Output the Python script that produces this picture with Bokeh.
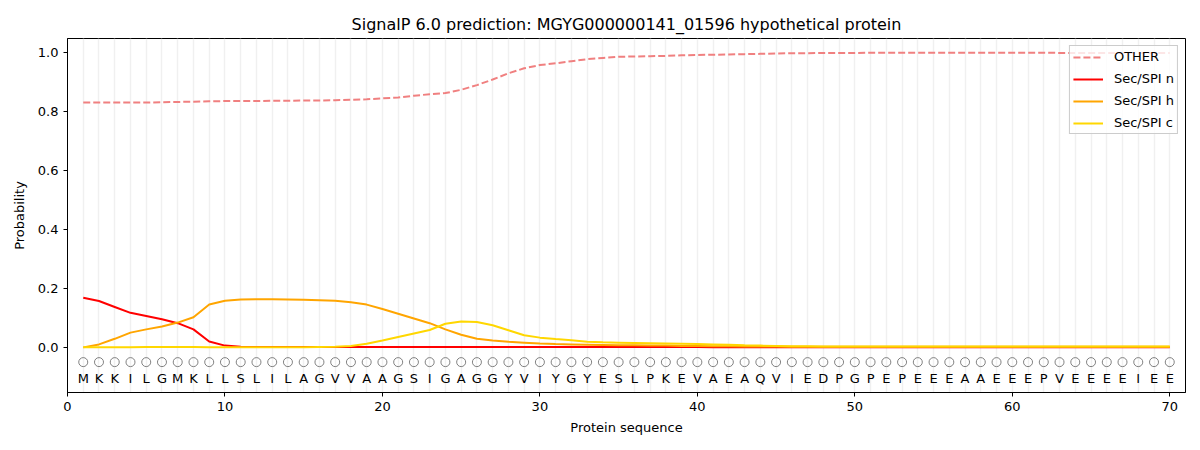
from bokeh.plotting import figure
from bokeh.models import Range1d, FixedTicker, PrintfTickFormatter, Legend, LegendItem
from bokeh.core.properties import value
from bokeh.embed import file_html
from bokeh.resources import INLINE

title_text = "SignalP 6.0 prediction: MGYG000000141_01596 hypothetical protein"

sequence = ["M", "K", "K", "I", "L", "G", "M", "K", "L", "L",
            "S", "L", "I", "L", "A", "G", "V", "V", "A", "A",
            "G", "S", "I", "G", "A", "G", "G", "Y", "V", "I",
            "Y", "G", "Y", "E", "S", "L", "P", "K", "E", "V",
            "A", "E", "A", "Q", "V", "I", "E", "D", "P", "G",
            "P", "E", "P", "E", "E", "E", "A", "A", "E", "E",
            "E", "P", "V", "E", "E", "E", "E", "I", "E", "E"]

positions = list(range(1, len(sequence) + 1))

other = [0.830, 0.830, 0.830, 0.830, 0.830, 0.831, 0.832, 0.833, 0.834, 0.835,
         0.835, 0.835, 0.836, 0.836, 0.837, 0.837, 0.838, 0.839, 0.841, 0.844,
         0.847, 0.853, 0.858, 0.862, 0.873, 0.889, 0.908, 0.929, 0.946, 0.957,
         0.963, 0.970, 0.977, 0.981, 0.985, 0.986, 0.987, 0.988, 0.990, 0.991,
         0.992, 0.993, 0.994, 0.995, 0.996, 0.997, 0.997, 0.998, 0.998, 0.998,
         0.999, 0.999, 0.999, 0.999, 0.999, 0.999, 0.999, 0.999, 0.999, 0.999,
         0.999, 0.999, 0.998, 0.998, 0.998, 0.998, 0.998, 0.998, 0.998, 0.998]

sec_n = [0.168, 0.157, 0.137, 0.117, 0.106, 0.095, 0.082, 0.061, 0.020, 0.006,
         0.002, 0.001, 0.001, 0.001, 0.001, 0.001, 0.001, 0.001, 0.001, 0.001,
         0.001, 0.001, 0.001, 0.001, 0.001, 0.001, 0.001, 0.001, 0.001, 0.001,
         0.001, 0.001, 0.001, 0.001, 0.001, 0.001, 0.001, 0.001, 0.001, 0.001,
         0.000, 0.000, 0.000, 0.000, 0.000, 0.000, 0.000, 0.000, 0.000, 0.000,
         0.000, 0.000, 0.000, 0.000, 0.000, 0.000, 0.000, 0.000, 0.000, 0.000,
         0.000, 0.000, 0.000, 0.000, 0.000, 0.000, 0.000, 0.000, 0.000, 0.000]

sec_h = [0.000, 0.010, 0.029, 0.050, 0.061, 0.071, 0.084, 0.102, 0.145, 0.158,
         0.162, 0.163, 0.163, 0.162, 0.161, 0.160, 0.158, 0.153, 0.145, 0.130,
         0.114, 0.098, 0.082, 0.061, 0.043, 0.029, 0.023, 0.019, 0.016, 0.013,
         0.011, 0.010, 0.009, 0.008, 0.007, 0.007, 0.006, 0.006, 0.005, 0.005,
         0.004, 0.004, 0.003, 0.003, 0.003, 0.002, 0.002, 0.002, 0.002, 0.002,
         0.002, 0.002, 0.002, 0.002, 0.002, 0.002, 0.002, 0.002, 0.002, 0.002,
         0.002, 0.002, 0.002, 0.002, 0.002, 0.002, 0.002, 0.002, 0.002, 0.002]

sec_c = [0.000, 0.000, 0.000, 0.000, 0.001, 0.001, 0.001, 0.001, 0.000, 0.000,
         0.000, 0.000, 0.000, 0.000, 0.000, 0.001, 0.002, 0.005, 0.012, 0.023,
         0.035, 0.047, 0.059, 0.080, 0.088, 0.086, 0.075, 0.058, 0.041, 0.033,
         0.028, 0.024, 0.019, 0.017, 0.016, 0.015, 0.014, 0.013, 0.012, 0.011,
         0.010, 0.009, 0.007, 0.006, 0.005, 0.004, 0.004, 0.003, 0.003, 0.003,
         0.003, 0.003, 0.003, 0.003, 0.003, 0.003, 0.003, 0.003, 0.003, 0.003,
         0.003, 0.003, 0.003, 0.003, 0.003, 0.003, 0.003, 0.003, 0.003, 0.003]

x_ticks = [0, 10, 20, 30, 40, 50, 60, 70]
y_ticks = [0.0, 0.2, 0.4, 0.6, 0.8, 1.0]

FONT = "DejaVu Sans"

p = figure(width=1200, height=450, output_backend="svg", toolbar_location=None,
           x_range=Range1d(0, 71), y_range=Range1d(-0.153, 1.047),
           min_border_left=67, min_border_right=15, min_border_top=38, min_border_bottom=58)
p.title.text = title_text
p.title.align = "center"
p.title.text_font = FONT
p.title.text_font_size = "16px"
p.title.text_font_style = "normal"
p.title.text_color = "black"

p.outline_line_color = "black"
p.outline_line_width = 1
p.outline_line_alpha = 1

for ax in (p.xaxis[0], p.yaxis[0]):
    ax.axis_line_color = "black"
    ax.major_tick_line_color = "black"
    ax.minor_tick_line_color = None
    ax.major_tick_out = 4
    ax.major_tick_in = 0
    ax.major_label_text_font = FONT
    ax.major_label_text_font_size = "13px"
    ax.major_label_text_color = "black"
    ax.axis_label_text_font = FONT
    ax.axis_label_text_font_size = "13px"
    ax.axis_label_text_font_style = "normal"
    ax.axis_label_text_color = "black"

p.xaxis.axis_label = "Protein sequence"
p.yaxis.axis_label = "Probability"
p.xaxis.ticker = FixedTicker(ticks=x_ticks)
p.yaxis.ticker = FixedTicker(ticks=y_ticks)
p.yaxis.formatter = PrintfTickFormatter(format="%.1f")
p.xaxis.axis_label_standoff = 6
p.yaxis.axis_label_standoff = 8

p.ygrid.grid_line_color = None
p.xgrid.ticker = FixedTicker(ticks=positions)
p.xgrid.grid_line_color = "#f0f0f0"
p.xgrid.grid_line_width = 1.5

r_other = p.line(positions, other, line_color="#f08080", line_width=2, line_dash="7 3")
r_n = p.line(positions, sec_n, line_color="#ff0000", line_width=2)
r_h = p.line(positions, sec_h, line_color="#ffa500", line_width=2)
r_c = p.line(positions, sec_c, line_color="#ffd700", line_width=2)

p.scatter(positions, [-0.05] * len(positions), size=9, marker="circle",
          fill_color=None, line_color="#808080", line_width=1)
p.text(positions, [-0.105] * len(positions), text=sequence, text_align="center",
       text_baseline="middle", text_font=value(FONT), text_font_size="13px",
       text_color="black")

legend = Legend(items=[LegendItem(label="OTHER", renderers=[r_other]),
                       LegendItem(label="Sec/SPI n", renderers=[r_n]),
                       LegendItem(label="Sec/SPI h", renderers=[r_h]),
                       LegendItem(label="Sec/SPI c", renderers=[r_c])],
                location="top_right", margin=7, padding=3, spacing=7,
                glyph_width=30, glyph_height=14, label_height=14,
                label_standoff=11, label_text_font=FONT, label_text_font_size="13px",
                label_text_color="black",
                border_line_color="#cccccc", border_line_alpha=1,
                background_fill_alpha=0.8)
p.add_layout(legend)

open("out.html", "w").write(file_html(p, INLINE))
